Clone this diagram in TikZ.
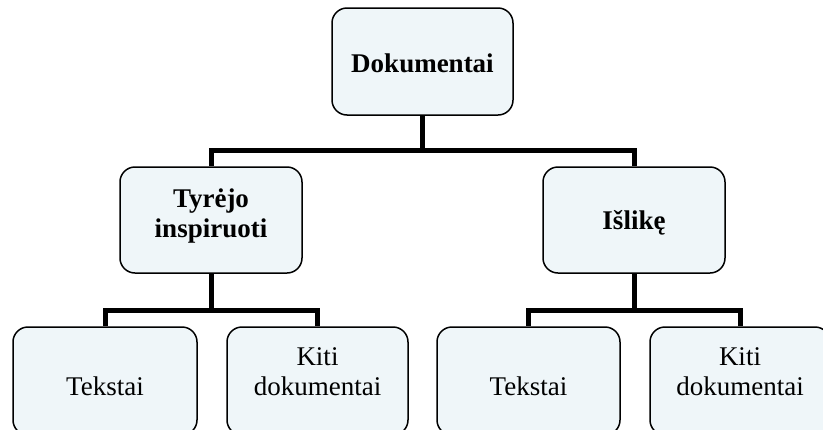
\documentclass[tikz,border=0pt]{standalone}
\usepackage{fontspec}
\setmainfont{Liberation Serif}
\definecolor{boxfill}{RGB}{239,246,249}
\begin{document}
\begin{tikzpicture}[x=1pt,y=-1pt,
  box/.style={draw=black, line width=1.5pt, fill=boxfill, rounded corners=15pt,
    minimum width=182pt, minimum height=107pt, inner sep=0pt, text depth=0pt,
    font=\fontsize{27}{30}\selectfont},
  boldbox/.style={box, font=\fontsize{27}{30}\selectfont\bfseries},
  conn/.style={line width=5pt, line join=miter, draw=black}]
\useasboundingbox (0,0) rectangle (823,429);
\clip (0,0) rectangle (823,429);

\node[boldbox, minimum width=181pt, text height=21pt] (dok) at (422.5,61.5) {Dokumentai};
\node[boldbox, minimum height=106pt, text height=34pt] (tyr) at (211,220)
  {\begin{tabular}[b]{@{}c@{}}Tyrėjo\\inspiruoti\end{tabular}};
\node[boldbox, minimum height=106pt, text height=18pt] (isl) at (634,220) {Išlikę};

\node[box, minimum width=184pt, minimum height=108pt, text height=28pt] (t1) at (105,381) {Tekstai};
\node[box, minimum width=181pt, minimum height=108pt, text height=28pt] (k1) at (317.5,381)
  {\begin{tabular}[b]{@{}c@{}}Kiti\\dokumentai\end{tabular}};
\node[box, minimum width=183pt, minimum height=108pt, text height=28pt] (t2) at (528.5,381) {Tekstai};
\node[box, minimum width=180pt, minimum height=108pt, text height=28pt] (k2) at (740,381)
  {\begin{tabular}[b]{@{}c@{}}Kiti\\dokumentai\end{tabular}};

\draw[conn] (dok.south) -- ++(0,35) -| (tyr.north);
\draw[conn] (dok.south) -- ++(0,35) -| (isl.north);
\draw[conn] (tyr.south) -- ++(0,37) -| (t1.north);
\draw[conn] (tyr.south) -- ++(0,37) -| (k1.north);
\draw[conn] (isl.south) -- ++(0,37) -| (t2.north);
\draw[conn] (isl.south) -- ++(0,37) -| (k2.north);
\end{tikzpicture}
\end{document}
